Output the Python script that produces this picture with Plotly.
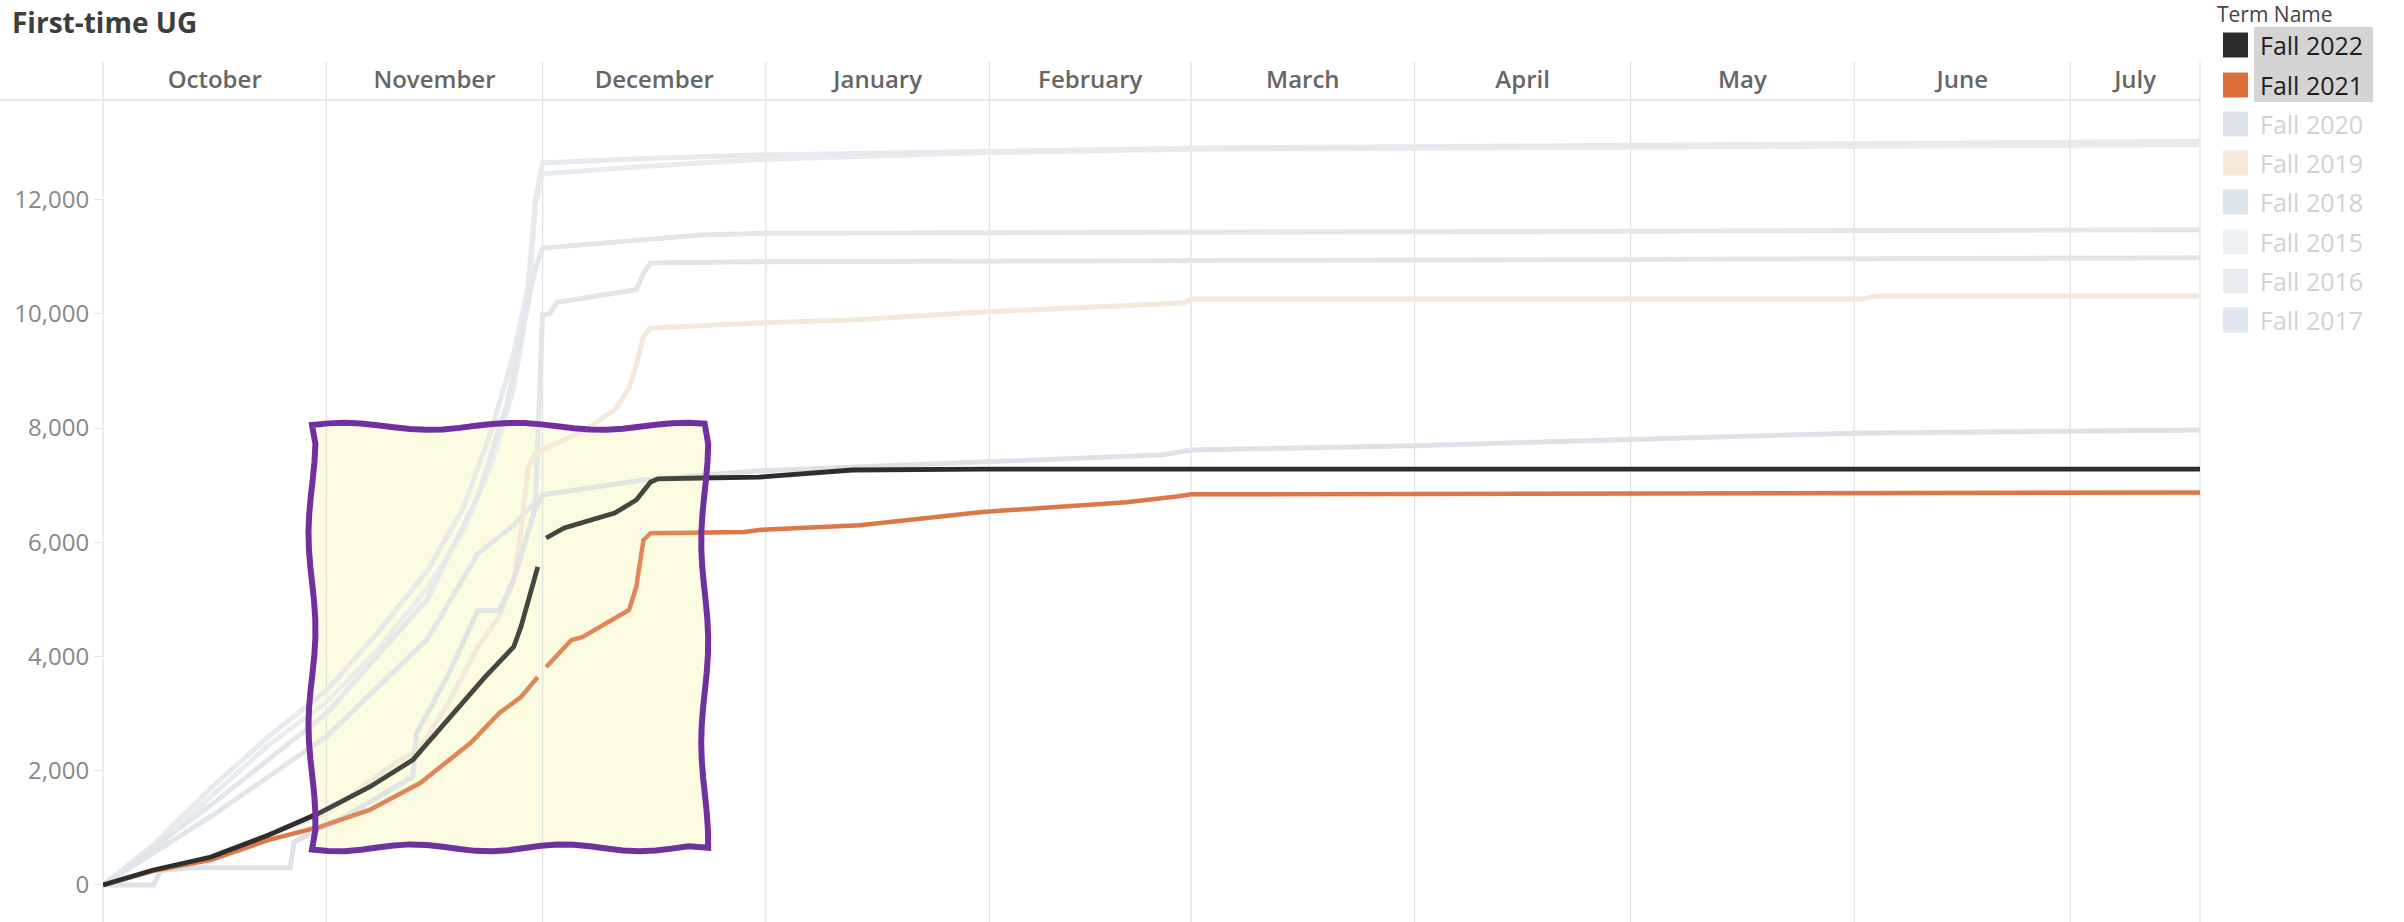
import math
from datetime import datetime
import plotly.graph_objects as go

# ---------------- data ----------------
month_starts = ["2021-10-01", "2021-11-01", "2021-12-01", "2022-01-01", "2022-02-01",
                "2022-03-01", "2022-04-01", "2022-05-01", "2022-06-01", "2022-07-01"]
month_names = ["October", "November", "December", "January", "February",
               "March", "April", "May", "June", "July"]
y_ticks = [0, 2000, 4000, 6000, 8000, 10000, 12000]

fall2022_dates = ["2021-10-01", "2021-10-08", "2021-10-16", "2021-10-24", "2021-10-31", "2021-11-07",
                  "2021-11-13", "2021-11-18", "2021-11-23", "2021-11-27", "2021-11-28", "2021-11-30 08:00",
                  "2021-12-01 00:00", "2021-12-01 12:00", "2021-12-04", "2021-12-11", "2021-12-14",
                  "2021-12-16", "2021-12-17", "2021-12-23", "2021-12-31", "2022-01-13", "2022-01-31",
                  "2022-07-19"]
fall2022_vals = [0, 263, 490, 875, 1260, 1716, 2190, 2900, 3640, 4170, 4520, 5570, None, 6075, 6250,
                 6510, 6740, 7055, 7110, 7125, 7140, 7265, 7280, 7280]

fall2021_dates = ["2021-10-01", "2021-10-08", "2021-10-16", "2021-10-24", "2021-10-31", "2021-11-07",
                  "2021-11-14", "2021-11-21", "2021-11-25", "2021-11-28", "2021-11-30 08:00",
                  "2021-12-01 00:00", "2021-12-01 12:00", "2021-12-05", "2021-12-06 12:00", "2021-12-13",
                  "2021-12-14", "2021-12-15", "2021-12-16", "2021-12-29", "2021-12-31", "2022-01-14",
                  "2022-01-31", "2022-02-20", "2022-02-27", "2022-03-01", "2022-07-19"]
fall2021_vals = [0, 250, 440, 790, 1015, 1313, 1785, 2486, 3010, 3290, 3640, None, 3815, 4290, 4340,
                 4815, 5217, 6040, 6160, 6180, 6215, 6300, 6530, 6700, 6800, 6840, 6870]

fall2020_dates = ["2021-10-01", "2021-10-08", "2021-10-09", "2021-10-13", "2021-10-27", "2021-10-27 12:00",
                  "2021-11-05", "2021-11-13", "2021-11-13 12:00", "2021-11-18", "2021-11-22", "2021-11-25",
                  "2021-11-27", "2021-11-30", "2021-12-01", "2021-12-15", "2021-12-31", "2022-01-31",
                  "2022-02-25", "2022-03-01", "2022-04-01", "2022-05-01", "2022-06-01", "2022-07-19"]
fall2020_vals = [0, 0, 250, 300, 300, 750, 1300, 1900, 2650, 3700, 4800, 4800, 5350, 6600, 6830, 7090,
                 7250, 7400, 7530, 7615, 7690, 7800, 7910, 7965]

fall2019_dates = ["2021-10-01", "2021-10-16", "2021-11-01", "2021-11-09", "2021-11-14", "2021-11-18",
                  "2021-11-22", "2021-11-25", "2021-11-27", "2021-11-28", "2021-11-29", "2021-11-30",
                  "2021-12-01", "2021-12-07", "2021-12-11", "2021-12-13", "2021-12-14", "2021-12-15",
                  "2021-12-16", "2021-12-31", "2022-01-13", "2022-01-31", "2022-02-28", "2022-03-01",
                  "2022-06-02", "2022-06-04", "2022-07-19"]
fall2019_vals = [0, 500, 1250, 2000, 2400, 3200, 4170, 4700, 5340, 6200, 7300, 7550, 7620, 7970, 8320,
                 8700, 9100, 9600, 9750, 9840, 9890, 10030, 10190, 10260, 10260, 10310, 10310]

fall2018_dates = ["2021-10-01", "2021-10-16", "2021-11-01", "2021-11-15", "2021-11-22", "2021-11-27",
                  "2021-11-30", "2021-11-30 12:00", "2021-12-01", "2021-12-02", "2021-12-03", "2021-12-14",
                  "2021-12-15", "2021-12-16", "2021-12-31", "2022-07-19"]
fall2018_vals = [0, 1200, 2600, 4300, 5800, 6300, 6700, 8440, 9980, 10000, 10200, 10420, 10700, 10890,
                 10910, 10980]

fall2017_dates = ["2021-10-01", "2021-10-16", "2021-11-01", "2021-11-15", "2021-11-22", "2021-11-26",
                  "2021-11-28", "2021-11-30", "2021-12-01", "2021-12-15", "2021-12-23", "2022-01-01",
                  "2022-07-19"]
fall2017_vals = [0, 1400, 3000, 5000, 6800, 8400, 9600, 10800, 11150, 11300, 11380, 11410, 11470]

fall2016_dates = ["2021-10-01", "2021-10-08", "2021-10-16", "2021-10-24", "2021-11-01", "2021-11-08",
                  "2021-11-15", "2021-11-20", "2021-11-24", "2021-11-27", "2021-11-29", "2021-11-30",
                  "2021-12-01", "2021-12-15", "2021-12-31", "2022-01-31", "2022-03-01", "2022-07-19"]
fall2016_vals = [0, 700, 1700, 2600, 3400, 4400, 5500, 6600, 8000, 9300, 10500, 12000, 12640, 12720,
                 12780, 12850, 12900, 13020]

fall2015_dates = ["2021-10-01", "2021-10-08", "2021-10-16", "2021-10-24", "2021-11-01", "2021-11-08",
                  "2021-11-15", "2021-11-20", "2021-11-24", "2021-11-27", "2021-11-29", "2021-11-30",
                  "2021-12-01", "2021-12-15", "2021-12-31", "2022-01-31", "2022-03-01", "2022-07-19"]
fall2015_vals = [0, 600, 1550, 2450, 3200, 4100, 5200, 6200, 7400, 8700, 10200, 11900, 12450, 12580,
                 12700, 12820, 12880, 12960]

legend_names = ["Fall 2022", "Fall 2021", "Fall 2020", "Fall 2019", "Fall 2018",
                "Fall 2015", "Fall 2016", "Fall 2017"]
legend_colors = ["#2b2b2b", "#dc6f3c", "#dde2ea", "#f5e7da", "#dde6ec",
                 "#eef1f3", "#e8ecf0", "#e2e8ef"]
line_colors = {"Fall 2022": "#2e2e2e", "Fall 2021": "#dc7848", "Fall 2020": "#dde2e8",
               "Fall 2019": "#f4e8dc", "Fall 2018": "#e1e6eb", "Fall 2015": "#e9ecef",
               "Fall 2016": "#e6e9ed", "Fall 2017": "#e3e7ec"}
highlighted = ["Fall 2022", "Fall 2021"]

# highlight box (annotation) in data units
BOX_X = ["2021-10-30", "2021-12-23 12:00"]
BOX_Y = [650, 8030]

X_START, X_END = "2021-10-01", "2022-07-19"
Y_RANGE = [-648, 13743]

# ---------------- layout geometry ----------------
W_FIG, H_FIG = 2404, 922
M_L, M_R, M_T, M_B = 103, 204, 100, 0
PW = W_FIG - M_L - M_R
PH = H_FIG - M_T - M_B

t0 = datetime.fromisoformat(X_START)
t1 = datetime.fromisoformat(X_END)


def xpaper(d):
    if isinstance(d, str):
        d = datetime.fromisoformat(d)
    return (d - t0).total_seconds() / (t1 - t0).total_seconds()


def ypaper(v):
    return (v - Y_RANGE[0]) / (Y_RANGE[1] - Y_RANGE[0])


def px_x(xpx):
    return (xpx - M_L) / PW


def px_y(ypx):
    return (H_FIG - M_B - ypx) / PH


fig = go.Figure()

series = [
    ("Fall 2015", fall2015_dates, fall2015_vals, 5),
    ("Fall 2016", fall2016_dates, fall2016_vals, 5),
    ("Fall 2017", fall2017_dates, fall2017_vals, 5),
    ("Fall 2018", fall2018_dates, fall2018_vals, 5),
    ("Fall 2019", fall2019_dates, fall2019_vals, 5),
    ("Fall 2020", fall2020_dates, fall2020_vals, 5),
    ("Fall 2021", fall2021_dates, fall2021_vals, 4.5),
    ("Fall 2022", fall2022_dates, fall2022_vals, 4.8),
]
for name, xs, ys, w in series:
    fig.add_trace(go.Scatter(x=xs, y=ys, mode="lines", name=name, connectgaps=False,
                             line=dict(color=line_colors[name], width=w),
                             showlegend=False, hoverinfo="skip"))

# month label positions: centre of the visible part of each month
tick_mids = []
bounds = month_starts + [X_END]
for i in range(len(month_starts)):
    a = datetime.fromisoformat(bounds[i])
    b = datetime.fromisoformat(bounds[i + 1])
    tick_mids.append((a + (b - a) / 2).strftime("%Y-%m-%d %H:%M"))

shapes = []
# wavy highlight box: fill below the lines, border above
bx0, bx1 = xpaper(BOX_X[0]), xpaper(BOX_X[1])
by0, by1 = ypaper(BOX_Y[0]), ypaper(BOX_Y[1])
ax, ay = 3.5 / PW, 3.5 / PH
pts = []
N = 24
for i in range(N + 1):  # top edge left->right
    t = i / N
    pts.append((bx0 + (bx1 - bx0) * t, by1 + ay * math.sin(t * 2 * math.pi * 2.3 + 0.4)))
for i in range(1, N + 1):  # right edge top->bottom
    t = i / N
    pts.append((bx1 + ax * math.sin(t * 2 * math.pi * 2.1 + 1.1), by1 + (by0 - by1) * t))
for i in range(1, N + 1):  # bottom edge right->left
    t = i / N
    pts.append((bx1 + (bx0 - bx1) * t, by0 + ay * math.sin(t * 2 * math.pi * 2.6 + 2.0)))
for i in range(1, N):  # left edge bottom->top
    t = i / N
    pts.append((bx0 + ax * math.sin(t * 2 * math.pi * 2.2 + 0.7), by0 + (by1 - by0) * t))
path = "M " + " L ".join(f"{x:.5f},{y:.5f}" for x, y in pts) + " Z"
shapes.append(dict(type="path", xref="paper", yref="paper", path=path, layer="below",
                   fillcolor="#fcfce6", line=dict(width=0)))

# vertical month separators (plot + header)
for d in month_starts + [X_END]:
    xp = xpaper(d)
    shapes.append(dict(type="line", xref="paper", yref="paper", x0=xp, x1=xp,
                       y0=0, y1=1 + 38 / PH, layer="below",
                       line=dict(color="#e2e2e2", width=1.3)))
# header bottom border
shapes.append(dict(type="line", xref="paper", yref="paper", x0=-M_L / PW, x1=1,
                   y0=1, y1=1, layer="below", line=dict(color="#e2e2e2", width=1.5)))

# translucent tint + border of the box drawn over the lines
shapes.append(dict(type="path", xref="paper", yref="paper", path=path, layer="above",
                   fillcolor="rgba(250,250,200,0.12)",
                   line=dict(color="#7030a0", width=6)))

# custom legend
annotations = []
row_y = [45, 85, 124, 163, 202, 242, 281, 320]
shapes.append(dict(type="rect", xref="paper", yref="paper",
                   x0=px_x(2254), x1=px_x(2373), y0=px_y(102), y1=px_y(27),
                   fillcolor="#d4d4d4", line=dict(width=0), layer="below"))
for name, col, yy in zip(legend_names, legend_colors, row_y):
    shapes.append(dict(type="rect", xref="paper", yref="paper",
                       x0=px_x(2223), x1=px_x(2248), y0=px_y(yy + 12.5), y1=px_y(yy - 12.5),
                       fillcolor=col, line=dict(width=0), layer="above"))
    annotations.append(dict(xref="paper", yref="paper", x=px_x(2259), y=px_y(yy),
                            xanchor="left", yanchor="middle", text=name, showarrow=False,
                            borderpad=0,
                            font=dict(family="Open Sans", size=25,
                                      color="#1e1e1e" if name in highlighted else "#d2d2d2")))
annotations.append(dict(xref="paper", yref="paper", x=px_x(2216), y=px_y(14),
                        xanchor="left", yanchor="middle", text="Term Name", showarrow=False,
                        borderpad=0,
                        font=dict(family="Open Sans", size=21, color="#444444")))

fig.update_layout(
    width=W_FIG, height=H_FIG,
    margin=dict(l=M_L, r=M_R, t=M_T, b=M_B, pad=0),
    paper_bgcolor="white", plot_bgcolor="rgba(0,0,0,0)",
    title=dict(text="<b>First-time UG</b>", xref="container", yref="container",
               x=12 / W_FIG, xanchor="left", y=1 - 23 / H_FIG, yanchor="middle",
               font=dict(family="Open Sans", size=28, color="#3d3d3d")),
    xaxis=dict(type="date", range=[X_START, X_END], side="top",
               tickmode="array", tickvals=tick_mids, ticktext=month_names,
               showgrid=False, zeroline=False, showline=False, ticks="",
               tickfont=dict(family="Open Sans", size=24, color="#666666", weight=600),
               ticklabelstandoff=6, fixedrange=True),
    yaxis=dict(range=Y_RANGE, tickmode="array", tickvals=y_ticks, tickformat=",d",
               showgrid=False, zeroline=False, showline=False,
               ticks="outside", ticklen=8, tickcolor="#e6e6e6", tickwidth=1,
               tickfont=dict(family="Open Sans", size=24, color="#888888"),
               fixedrange=True),
    shapes=shapes,
    annotations=annotations,
    showlegend=False,
)

fig.write_html("out.html")
